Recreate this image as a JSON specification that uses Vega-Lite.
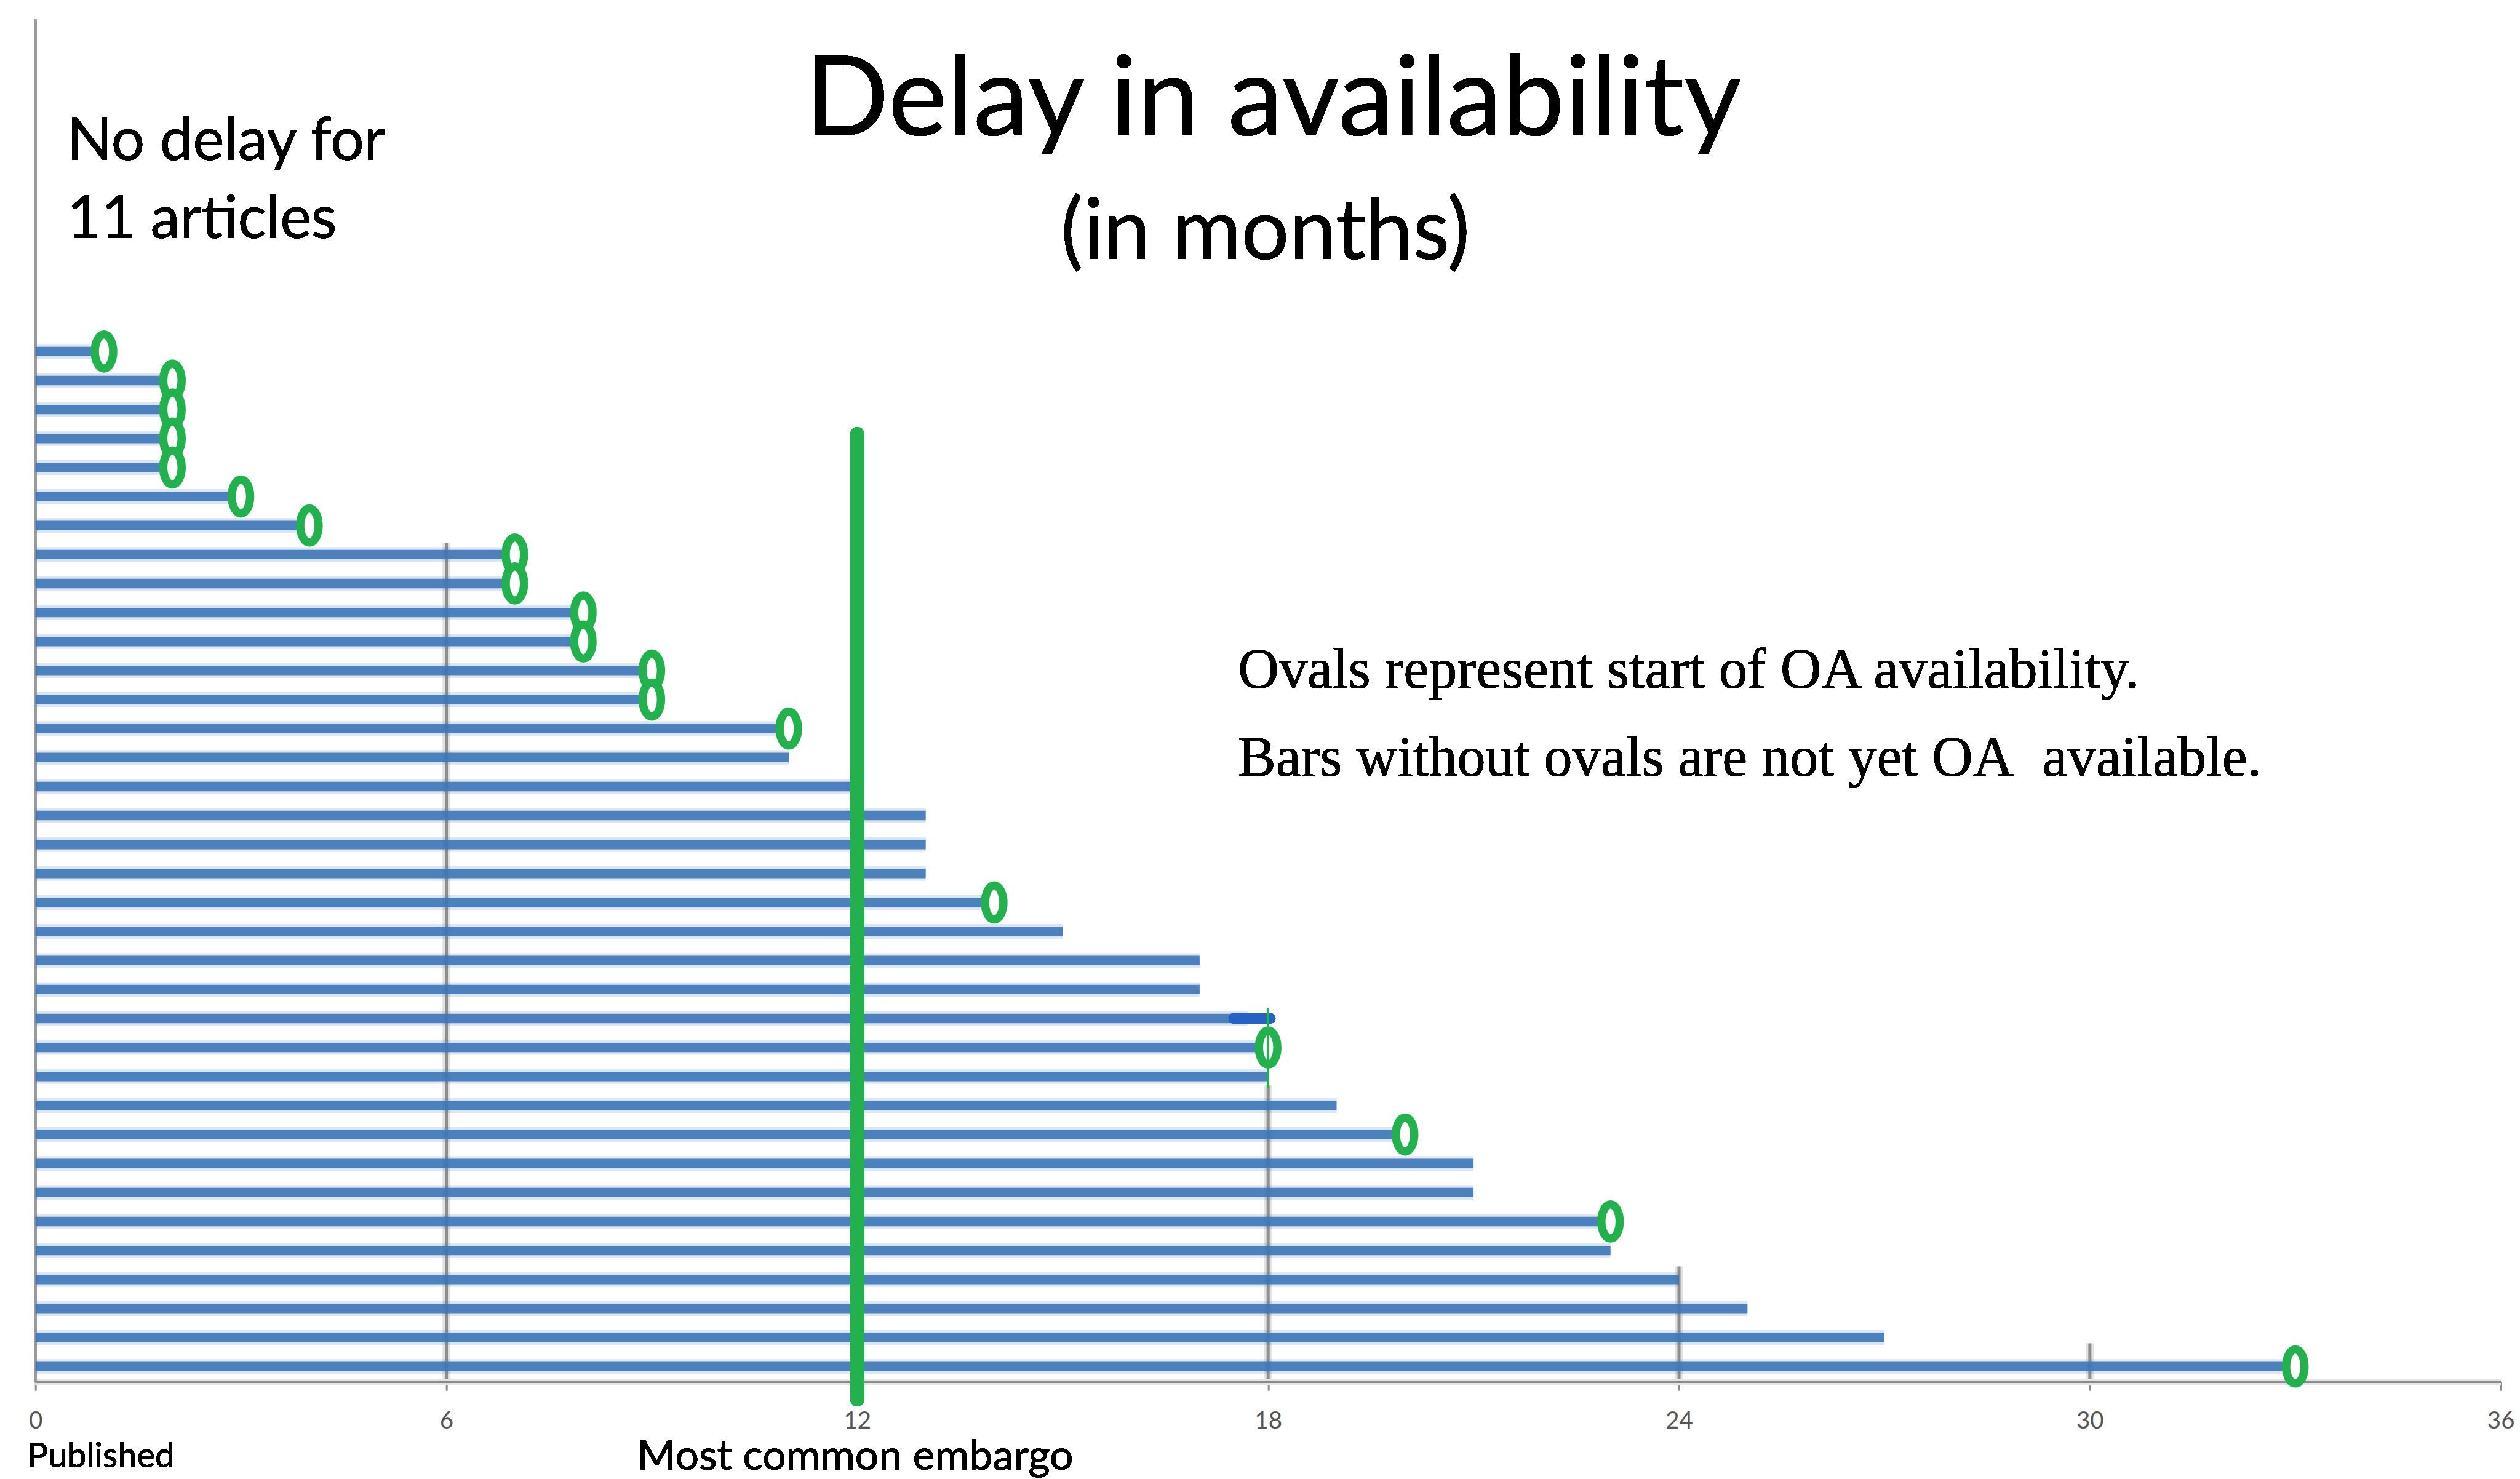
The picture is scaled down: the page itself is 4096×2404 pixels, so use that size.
{
  "$schema": "https://vega.github.io/schema/vega-lite/v6.json",
  "width": 4007,
  "height": 2214.5,
  "autosize": {"type": "none"},
  "padding": {"left": 57.7, "top": 31.7, "right": 31.3, "bottom": 157.8},
  "background": "white",
  "config": {"view": {"stroke": null}, "font": "Lato"},
  "data": {
    "values": [
      {"article": 1, "delay": 1, "oa": 1},
      {"article": 2, "delay": 2, "oa": 2},
      {"article": 3, "delay": 2, "oa": 2},
      {"article": 4, "delay": 2, "oa": 2},
      {"article": 5, "delay": 2, "oa": 2},
      {"article": 6, "delay": 3, "oa": 3},
      {"article": 7, "delay": 4, "oa": 4},
      {"article": 8, "delay": 7, "oa": 7},
      {"article": 9, "delay": 7, "oa": 7},
      {"article": 10, "delay": 8, "oa": 8},
      {"article": 11, "delay": 8, "oa": 8},
      {"article": 12, "delay": 9, "oa": 9},
      {"article": 13, "delay": 9, "oa": 9},
      {"article": 14, "delay": 11, "oa": 11},
      {"article": 15, "delay": 11, "oa": null},
      {"article": 16, "delay": 12, "oa": null},
      {"article": 17, "delay": 13, "oa": null},
      {"article": 18, "delay": 13, "oa": null},
      {"article": 19, "delay": 13, "oa": null},
      {"article": 20, "delay": 14, "oa": 14},
      {"article": 21, "delay": 15, "oa": null},
      {"article": 22, "delay": 17, "oa": null},
      {"article": 23, "delay": 17, "oa": null},
      {"article": 24, "delay": 17.7, "oa": null},
      {"article": 25, "delay": 18, "oa": 18},
      {"article": 26, "delay": 18, "oa": null},
      {"article": 27, "delay": 19, "oa": null},
      {"article": 28, "delay": 20, "oa": 20},
      {"article": 29, "delay": 21, "oa": null},
      {"article": 30, "delay": 21, "oa": null},
      {"article": 31, "delay": 23, "oa": 23},
      {"article": 32, "delay": 23, "oa": null},
      {"article": 33, "delay": 24, "oa": null},
      {"article": 34, "delay": 25, "oa": null},
      {"article": 35, "delay": 27, "oa": null},
      {"article": 36, "delay": 33, "oa": 33}
    ]
  },
  "layer": [
    {
      "data": {"values": [{"m": 6, "from": 7.6}, {"m": 18, "from": 26.3}, {"m": 24, "from": 32.55}, {"m": 30, "from": 35.2}]},
      "mark": {"type": "rule", "color": "#e2e2e2", "strokeWidth": 12.5},
      "encoding": {
        "x": {"field": "m", "type": "quantitative", "scale": {"domain": [0, 36], "nice": false, "zero": false},
          "axis": {"values": [0, 6, 12, 18, 24, 30, 36], "grid": false, "domain": false, "ticks": true, "tickColor": "#8a8a8a", "tickWidth": 3, "tickSize": 14, "labels": true, "labelFont": "Lato", "labelFontSize": 38.5, "labelColor": "#555555", "labelPadding": 61, "labelBaseline": "alphabetic", "title": null, "labelFlush": false, "labelOverlap": false, "format": "d"}},
        "y": {"field": "from", "type": "quantitative", "scale": {"domain": [-10.449, 36.531], "reverse": true, "nice": false, "zero": false}, "axis": null},
        "y2": {"datum": 36.531, "type": "quantitative"}
      }
    },
    {
      "data": {"values": [{"m": 6, "from": 7.6}, {"m": 18, "from": 26.3}, {"m": 24, "from": 32.55}, {"m": 30, "from": 35.2}]},
      "mark": {"type": "rule", "color": "#8e8e8e", "strokeWidth": 5},
      "encoding": {
        "x": {"field": "m", "type": "quantitative", "scale": {"domain": [0, 36], "nice": false, "zero": false}},
        "y": {"field": "from", "type": "quantitative", "scale": {"domain": [-10.449, 36.531], "reverse": true, "nice": false, "zero": false}, "axis": null},
        "y2": {"datum": 36.531, "type": "quantitative"}
      }
    },
    {
      "mark": {"type": "rule", "color": "#e4e4e4", "strokeWidth": 10},
      "encoding": {
        "x": {"datum": 0, "type": "quantitative", "scale": {"domain": [0, 36], "nice": false, "zero": false}},
        "x2": {"datum": 36, "type": "quantitative"},
        "y": {"datum": 36.531, "type": "quantitative", "scale": {"domain": [-10.449, 36.531], "reverse": true, "nice": false, "zero": false}, "axis": null}
      }
    },
    {
      "mark": {"type": "rule", "color": "#8a8a8a", "strokeWidth": 3.5},
      "encoding": {
        "x": {"datum": 0, "type": "quantitative", "scale": {"domain": [0, 36], "nice": false, "zero": false}},
        "x2": {"datum": 36, "type": "quantitative"},
        "y": {"datum": 36.531, "type": "quantitative", "scale": {"domain": [-10.449, 36.531], "reverse": true, "nice": false, "zero": false}, "axis": null}
      }
    },
    {
      "mark": {"type": "rule", "color": "#9a9a9a", "strokeWidth": 3.5},
      "encoding": {
        "x": {"datum": 0, "type": "quantitative", "scale": {"domain": [0, 36], "nice": false, "zero": false}},
        "y": {"datum": -10.449, "type": "quantitative", "scale": {"domain": [-10.449, 36.531], "reverse": true, "nice": false, "zero": false}, "axis": null},
        "y2": {"datum": 36.531, "type": "quantitative"}
      }
    },
    {
      "mark": {"type": "rule", "color": "#4f81bd", "opacity": 0.2, "strokeWidth": 24, "strokeCap": "butt"},
      "encoding": {
        "x": {"datum": 0, "type": "quantitative", "scale": {"domain": [0, 36], "nice": false, "zero": false}},
        "x2": {"field": "delay", "type": "quantitative"},
        "y": {"field": "article", "type": "quantitative", "scale": {"domain": [-10.449, 36.531], "reverse": true, "nice": false, "zero": false}, "axis": null}
      }
    },
    {
      "mark": {"type": "rule", "color": "#3d75b7", "opacity": 0.9, "strokeWidth": 15.4, "strokeCap": "butt"},
      "encoding": {
        "x": {"datum": 0, "type": "quantitative", "scale": {"domain": [0, 36], "nice": false, "zero": false}},
        "x2": {"field": "delay", "type": "quantitative"},
        "y": {"field": "article", "type": "quantitative", "scale": {"domain": [-10.449, 36.531], "reverse": true, "nice": false, "zero": false}, "axis": null}
      }
    },
    {
      "mark": {"type": "rule", "color": "#2363c8", "strokeWidth": 17, "strokeCap": "round"},
      "encoding": {
        "x": {"datum": 17.5, "type": "quantitative", "scale": {"domain": [0, 36], "nice": false, "zero": false}},
        "x2": {"datum": 18.03, "type": "quantitative"},
        "y": {"datum": 24, "type": "quantitative", "scale": {"domain": [-10.449, 36.531], "reverse": true, "nice": false, "zero": false}, "axis": null}
      }
    },
    {
      "mark": {"type": "point", "shape": "M0,-1C0.298,-1 0.54,-0.5523 0.54,0C0.54,0.5523 0.298,1 0,1C-0.298,1 -0.54,0.5523 -0.54,0C-0.54,-0.5523 -0.298,-1 0,-1Z", "size": 3050, "filled": false, "fill": "white", "fillOpacity": 1, "stroke": "#22b14c", "strokeWidth": 13.5, "opacity": 1},
      "encoding": {
        "x": {"field": "oa", "type": "quantitative", "scale": {"domain": [0, 36], "nice": false, "zero": false}},
        "y": {"field": "article", "type": "quantitative", "scale": {"domain": [-10.449, 36.531], "reverse": true, "nice": false, "zero": false}, "axis": null}
      }
    },
    {
      "mark": {"type": "rule", "color": "#22b14c", "strokeWidth": 22, "strokeCap": "round"},
      "encoding": {
        "x": {"datum": 12, "type": "quantitative", "scale": {"domain": [0, 36], "nice": false, "zero": false}},
        "y": {"datum": 3.84, "type": "quantitative", "scale": {"domain": [-10.449, 36.531], "reverse": true, "nice": false, "zero": false}, "axis": null},
        "y2": {"datum": 37.14, "type": "quantitative"}
      }
    },
    {
      "mark": {"type": "rule", "color": "#22b14c", "strokeWidth": 3},
      "encoding": {
        "x": {"datum": 18, "type": "quantitative", "scale": {"domain": [0, 36], "nice": false, "zero": false}},
        "y": {"datum": 23.65, "type": "quantitative", "scale": {"domain": [-10.449, 36.531], "reverse": true, "nice": false, "zero": false}, "axis": null},
        "y2": {"datum": 26.4, "type": "quantitative"}
      }
    },
    {
      "mark": {"type": "text", "text": "Delay in availability", "font": "Lato", "fontSize": 181, "align": "center", "baseline": "alphabetic", "color": "#000000"},
      "encoding": {
        "x": {"datum": 18.07, "type": "quantitative", "scale": {"domain": [0, 36], "nice": false, "zero": false}},
        "y": {"datum": -6.45, "type": "quantitative", "scale": {"domain": [-10.449, 36.531], "reverse": true, "nice": false, "zero": false}, "axis": null}
      }
    },
    {
      "mark": {"type": "text", "text": "(in months)", "font": "Lato", "fontSize": 137, "align": "center", "baseline": "alphabetic", "color": "#000000"},
      "encoding": {
        "x": {"datum": 17.96, "type": "quantitative", "scale": {"domain": [0, 36], "nice": false, "zero": false}},
        "y": {"datum": -2.2, "type": "quantitative", "scale": {"domain": [-10.449, 36.531], "reverse": true, "nice": false, "zero": false}, "axis": null}
      }
    },
    {
      "mark": {"type": "text", "text": "No delay for", "font": "Lato", "fontSize": 96, "align": "left", "baseline": "alphabetic", "color": "#000000"},
      "encoding": {
        "x": {"datum": 0.46, "type": "quantitative", "scale": {"domain": [0, 36], "nice": false, "zero": false}},
        "y": {"datum": -5.61, "type": "quantitative", "scale": {"domain": [-10.449, 36.531], "reverse": true, "nice": false, "zero": false}, "axis": null}
      }
    },
    {
      "mark": {"type": "text", "text": "11 articles", "font": "Lato", "fontSize": 96, "align": "left", "baseline": "alphabetic", "color": "#000000"},
      "encoding": {
        "x": {"datum": 0.46, "type": "quantitative", "scale": {"domain": [0, 36], "nice": false, "zero": false}},
        "y": {"datum": -2.92, "type": "quantitative", "scale": {"domain": [-10.449, 36.531], "reverse": true, "nice": false, "zero": false}, "axis": null}
      }
    },
    {
      "mark": {"type": "text", "text": "Ovals represent start of OA availability.", "font": "Liberation Serif", "fontSize": 92.3, "align": "left", "baseline": "alphabetic", "color": "#000000"},
      "encoding": {
        "x": {"datum": 17.56, "type": "quantitative", "scale": {"domain": [0, 36], "nice": false, "zero": false}},
        "y": {"datum": 12.59, "type": "quantitative", "scale": {"domain": [-10.449, 36.531], "reverse": true, "nice": false, "zero": false}, "axis": null}
      }
    },
    {
      "mark": {"type": "text", "text": "Bars without ovals are not yet OA\u00a0 available.", "font": "Liberation Serif", "fontSize": 92.3, "align": "left", "baseline": "alphabetic", "color": "#000000"},
      "encoding": {
        "x": {"datum": 17.56, "type": "quantitative", "scale": {"domain": [0, 36], "nice": false, "zero": false}},
        "y": {"datum": 15.63, "type": "quantitative", "scale": {"domain": [-10.449, 36.531], "reverse": true, "nice": false, "zero": false}, "axis": null}
      }
    },
    {
      "mark": {"type": "text", "text": "Published", "font": "Lato", "fontSize": 56, "align": "left", "baseline": "alphabetic", "color": "#000000"},
      "encoding": {
        "x": {"datum": -0.12, "type": "quantitative", "scale": {"domain": [0, 36], "nice": false, "zero": false}},
        "y": {"datum": 39.47, "type": "quantitative", "scale": {"domain": [-10.449, 36.531], "reverse": true, "nice": false, "zero": false}, "axis": null}
      }
    },
    {
      "mark": {"type": "text", "text": "Most common embargo", "font": "Lato", "fontSize": 68, "align": "center", "baseline": "alphabetic", "color": "#000000"},
      "encoding": {
        "x": {"datum": 11.97, "type": "quantitative", "scale": {"domain": [0, 36], "nice": false, "zero": false}},
        "y": {"datum": 39.57, "type": "quantitative", "scale": {"domain": [-10.449, 36.531], "reverse": true, "nice": false, "zero": false}, "axis": null}
      }
    }
  ]
}
